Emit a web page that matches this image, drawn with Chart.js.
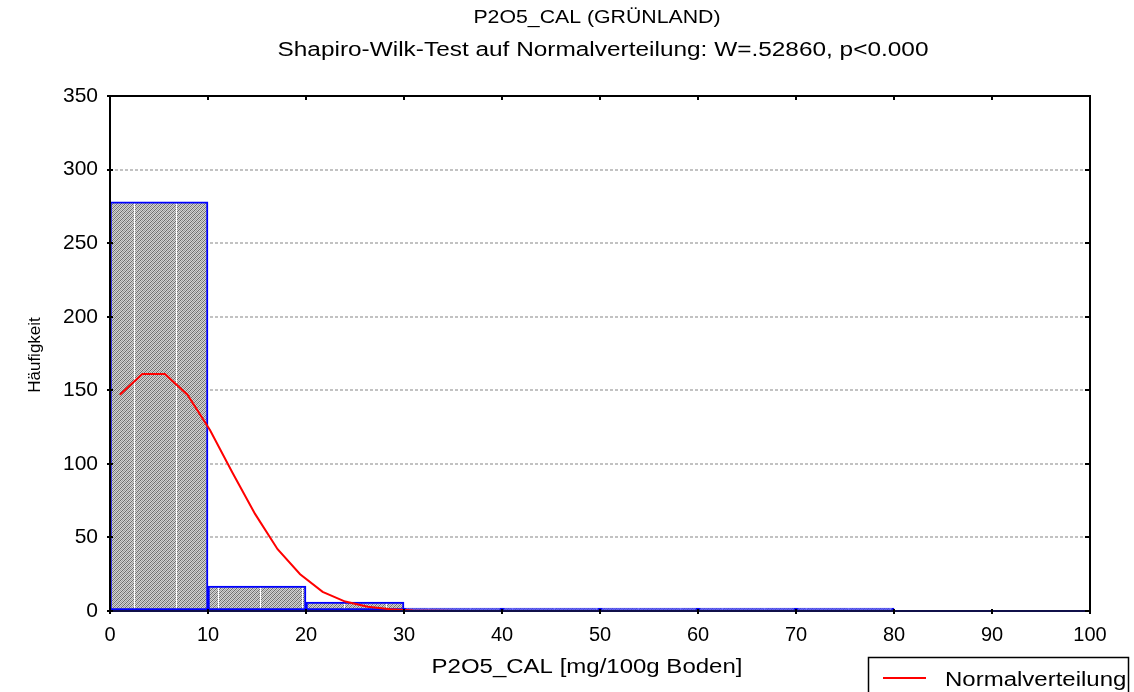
<!DOCTYPE html>
<html>
<head>
<meta charset="utf-8">
<script src="https://cdn.jsdelivr.net/npm/chart.js@4.4.1/dist/chart.umd.min.js"></script>
<style>
html,body{margin:0;padding:0;background:#fff;}
#wrap{width:1134px;height:692px;position:relative;}
</style>
</head>
<body>
<div id="wrap"><canvas id="c" width="1134" height="692"></canvas></div>
<script>
// ---- data ----
const binStarts = [0, 10, 20, 30, 40, 50, 60, 70, 80, 90];
const binEnds   = [10, 20, 30, 40, 50, 60, 70, 80, 90, 100];
const counts    = [278, 17, 6, 2, 2, 1, 1, 1, 0, 0];
const curveX = [1.0, 3.3, 5.6, 7.9, 10.2, 12.5, 14.8, 17.1, 19.4, 21.7, 24.0, 26.3, 28.6, 30.9, 33.2, 35.5, 40, 50, 60, 70, 80, 90, 97.5];
const curveY = [147, 161, 161, 147, 123, 94, 66, 42, 25, 13, 6.4, 2.9, 1.2, 0.4, 0.15, 0.05, 0, 0, 0, 0, 0, 0, 0];
const xTickValues = [0, 10, 20, 30, 40, 50, 60, 70, 80, 90, 100];
const yTickValues = [0, 50, 100, 150, 200, 250, 300, 350];
const titleText = "P2O5_CAL (GRÜNLAND)";
const subtitleText = "Shapiro-Wilk-Test auf Normalverteilung: W=.52860, p<0.000";
const xTitle = "P2O5_CAL [mg/100g Boden]";
const yTitle = "Häufigkeit";
const legendLabel = "Normalverteilung";

// ---- hatch pattern ----
function makePattern() {
  const pc = document.createElement('canvas');
  pc.width = 84; pc.height = 4;
  const p = pc.getContext('2d');
  const shades = ['#6c6c6c', '#d2d2d2', '#9c9c9c', '#d2d2d2'];
  for (let x = 0; x < 84; x++) {
    for (let y = 0; y < 4; y++) {
      p.fillStyle = shades[(x + y) % 4];
      p.fillRect(x, y, 1, 1);
    }
  }
  p.fillStyle = '#ffffff';
  p.fillRect(8, 0, 1, 4);
  p.fillRect(50, 0, 1, 4);
  return document.getElementById('c').getContext('2d').createPattern(pc, 'repeat');
}
const hatch = makePattern();

const barData = binStarts.map((s, i) => ({x: (s + binEnds[i]) / 2, y: counts[i] === 0 ? null : counts[i]}));
const lineData = curveX.map((x, i) => ({x: x, y: curveY[i]}));

const FONT = "'Liberation Sans', Arial, sans-serif";

function sText(ctx, text, x, y, sx, size, align) {
  ctx.save();
  ctx.font = size + "px " + FONT;
  ctx.fillStyle = '#000';
  ctx.textBaseline = 'middle';
  ctx.textAlign = align || 'center';
  ctx.translate(x, y);
  ctx.scale(sx, 1);
  ctx.fillText(text, 0, 0);
  ctx.restore();
}

const decor = {
  id: 'decor',
  afterDatasetsDraw(chart) {
    const ctx = chart.ctx;
    const a = chart.chartArea;
    const xs = chart.scales.x, ys = chart.scales.y;
    ctx.save();
    ctx.strokeStyle = '#000';
    ctx.lineWidth = 2;
    ctx.setLineDash([]);
    ctx.beginPath();
    ctx.moveTo(a.left, a.bottom); ctx.lineTo(a.left, a.top); ctx.lineTo(a.right, a.top); ctx.lineTo(a.right, a.bottom);
    ctx.stroke();
    ctx.strokeStyle = '#10104a';
    ctx.beginPath();
    ctx.moveTo(a.left - 1, a.bottom); ctx.lineTo(a.right + 1, a.bottom);
    ctx.stroke();
    ctx.strokeStyle = '#000';
    ctx.beginPath();
    xTickValues.forEach(v => {
      const px = Math.round(xs.getPixelForValue(v));
      ctx.moveTo(px, a.bottom - 2); ctx.lineTo(px, a.bottom + 3);
      ctx.moveTo(px, a.top); ctx.lineTo(px, a.top + 4);
    });
    yTickValues.forEach(v => {
      const py = Math.round(ys.getPixelForValue(v));
      ctx.moveTo(a.left - 3, py); ctx.lineTo(a.left + 3, py);
      ctx.moveTo(a.right - 5, py); ctx.lineTo(a.right, py);
    });
    ctx.stroke();
    ctx.restore();
  },
  afterDraw(chart) {
    const ctx = chart.ctx;
    sText(ctx, titleText, 597, 18, 1.12, 19);
    sText(ctx, subtitleText, 603, 50, 1.22, 20);
    sText(ctx, xTitle, 587, 667, 1.2, 20);
    ctx.save();
    ctx.translate(35, 355);
    ctx.rotate(-Math.PI / 2);
    sText(ctx, yTitle, 0, 0, 1, 17);
    ctx.restore();
    // legend
    ctx.save();
    ctx.strokeStyle = '#000';
    ctx.lineWidth = 1.5;
    ctx.strokeRect(868.5, 657.5, 260, 40);
    ctx.strokeStyle = '#ff0000';
    ctx.lineWidth = 2;
    ctx.beginPath();
    ctx.moveTo(883, 678); ctx.lineTo(926, 678);
    ctx.stroke();
    ctx.restore();
    sText(ctx, legendLabel, 945, 680, 1.2, 20, 'left');
  }
};

new Chart(document.getElementById('c'), {
  type: 'bar',
  data: {
    datasets: [
      {
        type: 'line',
        label: legendLabel,
        data: lineData,
        borderColor: '#ff0000',
        borderWidth: 2,
        pointRadius: 0,
        tension: 0,
        fill: false,
        order: 1
      },
      {
        type: 'bar',
        label: 'Häufigkeit',
        data: barData,
        backgroundColor: hatch,
        borderColor: '#0000ff',
        borderWidth: 2,
        borderSkipped: false,
        minBarLength: 3,
        barPercentage: 1,
        categoryPercentage: 1,
        grouped: false,
        order: 2
      }
    ]
  },
  options: {
    responsive: false,
    animation: false,
    devicePixelRatio: 1,
    layout: { padding: { left: 0, top: 96, right: 44, bottom: 0 } },
    plugins: { legend: { display: false }, tooltip: { enabled: false }, title: { display: false } },
    scales: {
      x: {
        type: 'linear',
        min: 0, max: 100,
        offset: false,
        afterBuildTicks: s => { s.ticks = xTickValues.map(v => ({value: v})); },
        afterFit: s => { s.height = 81; },
        grid: { display: true, drawOnChartArea: false, drawTicks: false, offset: false },
        border: { display: false },
        ticks: { padding: 12, color: '#000', font: { family: FONT, size: 20 }, maxRotation: 0, autoSkip: false }
      },
      y: {
        min: 0, max: 350,
        afterBuildTicks: s => { s.ticks = yTickValues.map(v => ({value: v})); },
        afterFit: s => { s.width = 110; },
        grid: {
          drawTicks: false,
          lineWidth: 2,
          color: c => (c.tick && (c.tick.value === 0 || c.tick.value === 350)) ? 'rgba(0,0,0,0)' : '#c2c2c2'
        },
        border: { display: false, dash: [3, 2] },
        ticks: { padding: 12, color: '#000', font: { family: FONT, size: 21 } }
      }
    }
  },
  plugins: [decor]
});
</script>
</body>
</html>
